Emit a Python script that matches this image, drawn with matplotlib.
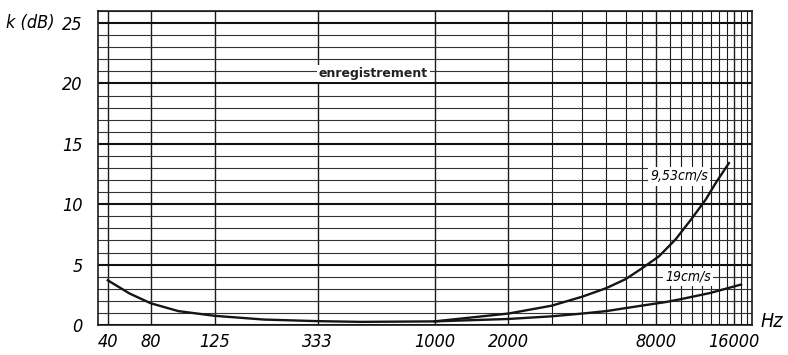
import numpy as np
import matplotlib
matplotlib.use("Agg")
import matplotlib.pyplot as plt

# --- data (Hz, dB) ---
tick_freqs = [40, 80, 125, 333, 1000, 2000, 8000, 16000]
tick_labels = ["40", "80", "125", "333", "1000", "2000", "8000", "16000"]
fine_freqs = [3000, 4000, 5000, 6000, 7000, 9000, 10000, 11000, 12000,
              13000, 14000, 15000, 17000, 18000]

f_953 = [40, 57, 80, 97, 125, 200, 333, 500, 1000, 2000, 3000, 4000, 5000,
         6000, 7000, 8200, 9500, 10950, 12420, 13600, 15250]
k_953 = [3.7, 2.6, 1.8, 1.15, 0.76, 0.45, 0.32, 0.26, 0.3, 0.95, 1.6, 2.35,
         3.05, 3.8, 4.7, 5.7, 7.1, 8.8, 10.4, 11.8, 13.4]

f_19 = [1000, 2000, 3000, 4000, 5000, 6000, 7500, 8700, 10000, 12900, 17000]
k_19 = [0.3, 0.5, 0.72, 0.95, 1.15, 1.4, 1.7, 1.9, 2.15, 2.65, 3.35]

# the printed frequency axis is not a clean log axis, so map it piecewise
scale_f = [20, 40, 80, 125, 333, 1000, 2000, 8000, 16000, 20000]
scale_u = [65, 108, 151, 215, 318, 435, 509, 657, 735, 760]
log_f = np.log10(scale_f)


def fwd(f):
    f = np.clip(np.asarray(f, dtype=float), 1e-3, None)
    return np.interp(np.log10(f), log_f, scale_u)


def inv(u):
    return 10 ** np.interp(u, scale_u, log_f)


tick_font = dict(family="DejaVu Sans", style="italic", fontstretch="condensed")

fig = plt.figure(figsize=(7.88, 3.55), dpi=100)
ax = fig.add_axes([0.124, 0.0845, 0.830, 0.8845])
ax.set_xscale("function", functions=(fwd, inv))
ax.set_xlim(34, 18700)
ax.set_ylim(0, 26)

# grid
for f in tick_freqs:
    ax.axvline(f, color="#1a1a1a", lw=1.0, zorder=1)
for f in fine_freqs:
    ax.axvline(f, color="#1a1a1a", lw=0.8, zorder=1)
for k in range(0, 27):
    if k % 5 == 0:
        ax.axhline(k, color="#111111", lw=1.5, zorder=1)
    else:
        ax.axhline(k, color="#333333", lw=0.8, zorder=1)

for s in ax.spines.values():
    s.set_linewidth(1.2)
    s.set_color("#1a1a1a")

ax.plot(f_953, k_953, color="#151515", lw=1.7, zorder=3, solid_joinstyle="round")
ax.plot(f_19, k_19, color="#151515", lw=1.7, zorder=3, solid_joinstyle="round")

ax.set_xticks(tick_freqs)
ax.set_xticklabels(tick_labels, fontsize=13, **tick_font)
ax.xaxis.set_minor_locator(matplotlib.ticker.NullLocator())
ax.set_yticks([0, 5, 10, 15, 20, 25])
ax.set_yticklabels(["0", "5", "10", "15", "20", "25"], fontsize=13, **tick_font)
ax.tick_params(axis="x", length=0, pad=6)
ax.tick_params(axis="y", length=0, pad=11)

box = dict(facecolor="white", edgecolor="none", pad=1.5)
ax.text(563, 20.8, "enregistrement", fontsize=9, ha="center", va="center",
        family="DejaVu Sans", fontweight="bold", color="#222222", bbox=box, zorder=4)
ax.text(9780, 12.3, "9,53cm/s", fontsize=10, ha="center", va="center",
        bbox=box, zorder=4, **tick_font)
ax.text(10600, 4.0, "19cm/s", fontsize=10, ha="center", va="center",
        bbox=box, zorder=4, **tick_font)

fig.text(0.008, 0.935, "k (dB)", fontsize=13, ha="left", va="center", **tick_font)
fig.text(0.965, 0.095, "Hz", fontsize=14, ha="left", va="center", **tick_font)

fig.savefig("out.png", dpi=100, facecolor="white")
